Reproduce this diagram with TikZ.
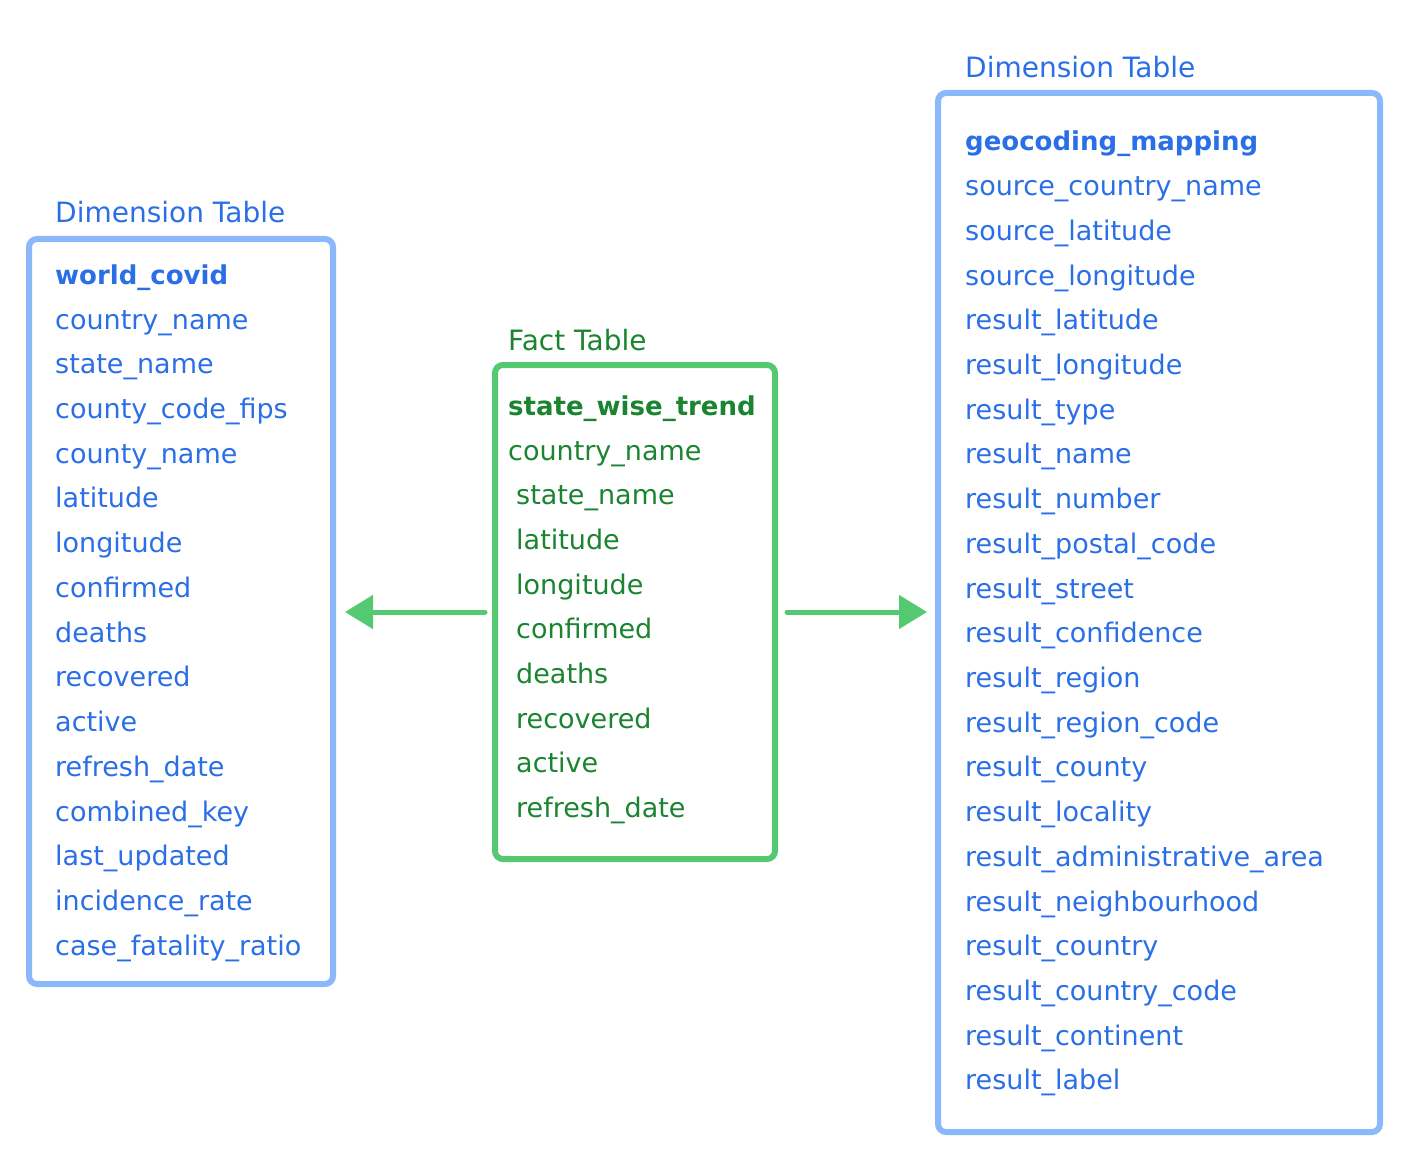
\documentclass[tikz,border=0pt]{standalone}
\usepackage{fontspec}
\setmainfont{DejaVu Sans}
\usetikzlibrary{arrows.meta}
\definecolor{btext}{HTML}{2B6FE6}
\definecolor{bbox}{HTML}{8AB8FA}
\definecolor{gtext}{HTML}{1B8430}
\definecolor{gbox}{HTML}{55C972}
\tikzset{
  tbox/.style={line width=6pt, rounded corners=8pt},
  item/.style={anchor=base west, inner sep=0pt, font=\fontsize{27}{30}\selectfont},
  ttl/.style={anchor=base west, inner sep=0pt, font=\fontsize{28}{30}\selectfont},
  head/.style={anchor=base west, inner sep=0pt, font=\fontsize{26}{30}\selectfont\bfseries},
  link/.style={gbox, line width=5pt, line cap=round, -{Triangle[length=28pt,width=33pt]}}
}
\begin{document}
\begin{tikzpicture}[x=1pt,y=-1pt]
\useasboundingbox (0,0) rectangle (1408,1150);
% boxes
\draw[tbox, bbox] (29,239) rectangle (333,984);
\draw[tbox, gbox] (495,365) rectangle (775,859);
\draw[tbox, bbox] (938,93) rectangle (1380,1132);
% titles
\node[ttl, text=btext] (t1) at (55,223) {Dimension Table};
\node[ttl, text=gtext] (t2) at (508,350) {Fact Table};
\node[ttl, text=btext] (t3) at (965,78) {Dimension Table};
% left table
\foreach \t [count=\i from 0] in {country\_name,state\_name,county\_code\_fips,county\_name,latitude,longitude,confirmed,deaths,recovered,active,refresh\_date,combined\_key,last\_updated,incidence\_rate,case\_fatality\_ratio}
  \node[item, text=btext] (l\i) at (55,{329+44.73*\i}) {\t};
\node[head, text=btext] (lh) at (55,285) {world\_covid};
% middle table
\node[head, text=gtext] (mh) at (508,415) {state\_wise\_trend};
\node[item, text=gtext] (m0) at (508,460) {country\_name};
\foreach \t [count=\i from 1] in {state\_name,latitude,longitude,confirmed,deaths,recovered,active,refresh\_date}
  \node[item, text=gtext] (m\i) at (516,{460+44.67*\i}) {\t};
% right table
\node[head, text=btext] (rh) at (965,151) {geocoding\_mapping};
\foreach \t [count=\i from 0] in {source\_country\_name,source\_latitude,source\_longitude,result\_latitude,result\_longitude,result\_type,result\_name,result\_number,result\_postal\_code,result\_street,result\_confidence,result\_region,result\_region\_code,result\_county,result\_locality,result\_administrative\_area,result\_neighbourhood,result\_country,result\_country\_code,result\_continent,result\_label}
  \node[item, text=btext] (r\i) at (965,{195.7+44.71*\i}) {\t};
% arrows
\coordinate (a1s) at (485,612);
\coordinate (a1e) at (345,612);
\coordinate (a2s) at (787,612);
\coordinate (a2e) at (927,612);
\draw[link] (a1s) -- (a1e);
\draw[link] (a2s) -- (a2e);
\end{tikzpicture}
\end{document}
